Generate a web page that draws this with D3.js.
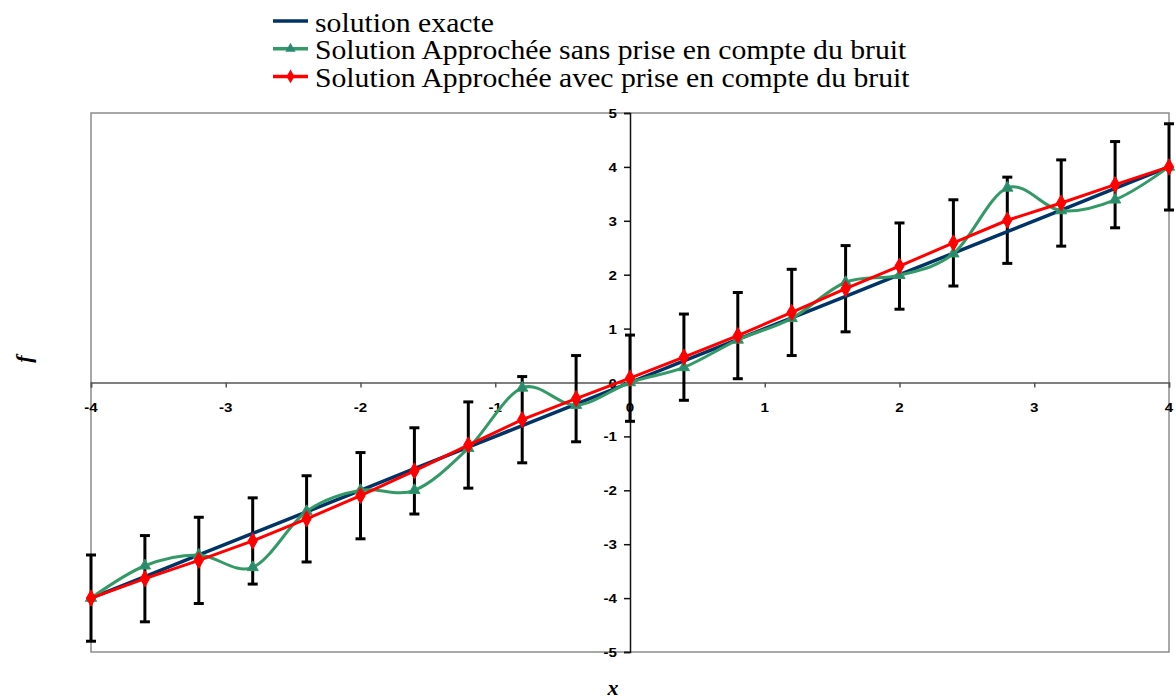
<!DOCTYPE html>
<html>
<head>
<meta charset="utf-8">
<script src="https://cdn.jsdelivr.net/npm/d3@7"></script>
<style>
  html, body { margin: 0; padding: 0; background: #fff; }
  svg { display: block; }
</style>
</head>
<body>
<svg id="chart" width="1176" height="700"></svg>
<script>
// ---- data ----
const xValues = [-4, -3.6, -3.2, -2.8, -2.4, -2, -1.6, -1.2, -0.8, -0.4, 0, 0.4, 0.8, 1.2, 1.6, 2, 2.4, 2.8, 3.2, 3.6, 4];
const exactValues = [-4, -3.6, -3.2, -2.8, -2.4, -2, -1.6, -1.2, -0.8, -0.4, 0, 0.4, 0.8, 1.2, 1.6, 2, 2.4, 2.8, 3.2, 3.6, 4];
const sansBruit = [-4.00, -3.40, -3.20, -3.43, -2.39, -2.00, -2.00, -1.22, -0.10, -0.42, 0.00, 0.28, 0.79, 1.19, 1.86, 1.99, 2.39, 3.61, 3.19, 3.39, 4.00];
const avecBruit = [-4.00, -3.64, -3.30, -2.94, -2.53, -2.10, -1.64, -1.16, -0.69, -0.30, 0.08, 0.47, 0.87, 1.30, 1.74, 2.16, 2.59, 3.01, 3.33, 3.67, 4.00];
const errorHalf = [0.8, 0.8, 0.8, 0.8, 0.8, 0.8, 0.8, 0.8, 0.8, 0.8, 0.8, 0.8, 0.8, 0.8, 0.8, 0.8, 0.8, 0.8, 0.8, 0.8, 0.8];
const xTicks = [-4, -3, -2, -1, 0, 1, 2, 3, 4];
const yTicks = [-5, -4, -3, -2, -1, 0, 1, 2, 3, 4, 5];
const seriesNames = ["solution exacte", "Solution Approchée sans prise en compte du bruit", "Solution Approchée avec prise en compte du bruit"];
const xTitle = "x";
const yTitle = "f";

const colors = { exact: "#003366", sans: "#339966", sansMarker: "#2a8a70", avec: "#ff0000" };
const sansFont = "Arial, 'Liberation Sans', Helvetica, sans-serif";
const serifFont = "'Times New Roman', 'Liberation Serif', Times, serif";

// ---- layout ----
const svg = d3.select("#chart");
const plot = { left: 91, right: 1169, top: 113, bottom: 652 };
const x = d3.scaleLinear().domain([-4, 4]).range([plot.left, plot.right]);
const y = d3.scaleLinear().domain([-5, 5]).range([plot.bottom, plot.top]);

// frame
svg.append("rect")
  .attr("x", plot.left).attr("y", plot.top)
  .attr("width", plot.right - plot.left).attr("height", plot.bottom - plot.top)
  .attr("fill", "none").attr("stroke", "#8c8c8c").attr("stroke-width", 1.5);

// x axis through y=0 (tick marks via axis, labels drawn separately)
const xAxis = d3.axisBottom(x).tickValues(xTicks).tickSize(5).tickFormat("");
const gx = svg.append("g").attr("transform", `translate(0,${y(0)})`).call(xAxis);
gx.select(".domain").attr("stroke", "#555").attr("stroke-width", 1.5);
gx.selectAll(".tick line").attr("stroke", "#555").attr("stroke-width", 1.5);
svg.append("g").selectAll("text").data(xTicks).join("text")
  .attr("transform", d => `translate(${x(d)},${y(0) + 29}) scale(1.12,1)`).attr("text-anchor", "middle")
  .attr("font-family", sansFont).attr("font-weight", "bold").attr("font-size", 13.5).attr("fill", "#000")
  .text(d => String(d));

// y axis through x=0
const yAxis = d3.axisLeft(y).tickValues(yTicks).tickSize(6).tickFormat("");
const gy = svg.append("g").attr("transform", `translate(${x(0)},0)`).call(yAxis);
gy.select(".domain").attr("stroke", "#111").attr("stroke-width", 1.5);
gy.selectAll(".tick line").attr("stroke", "#111").attr("stroke-width", 1.5);
svg.append("g").selectAll("text").data(yTicks).join("text")
  .attr("transform", d => `translate(${x(0) - 13},${y(d) + 5}) scale(1.12,1)`).attr("text-anchor", "end")
  .attr("font-family", sansFont).attr("font-weight", "bold").attr("font-size", 13.5).attr("fill", "#000")
  .text(d => String(d));

// error bars (on the "avec bruit" series)
const eb = svg.append("g").attr("stroke", "#000").attr("stroke-width", 3).attr("stroke-linecap", "butt");
xValues.forEach((xv, i) => {
  const lo = avecBruit[i] - errorHalf[i], hi = avecBruit[i] + errorHalf[i];
  eb.append("line").attr("x1", x(xv)).attr("x2", x(xv)).attr("y1", y(lo)).attr("y2", y(hi));
  eb.append("line").attr("x1", x(xv) - 5).attr("x2", x(xv) + 5).attr("y1", y(lo)).attr("y2", y(lo));
  eb.append("line").attr("x1", x(xv) - 5).attr("x2", x(xv) + 5).attr("y1", y(hi)).attr("y2", y(hi));
});

const pts = arr => xValues.map((xv, i) => [xv, arr[i]]);
const lineLin = d3.line().x(d => x(d[0])).y(d => y(d[1]));
const lineSmooth = d3.line().x(d => x(d[0])).y(d => y(d[1])).curve(d3.curveCatmullRom.alpha(0));

// exact
svg.append("path").datum(pts(exactValues)).attr("d", lineLin)
  .attr("fill", "none").attr("stroke", colors.exact).attr("stroke-width", 3.5);

// sans bruit (smoothed)
svg.append("path").datum(pts(sansBruit)).attr("d", lineSmooth)
  .attr("fill", "none").attr("stroke", colors.sans).attr("stroke-width", 3);
const tri = d3.symbol().type(d3.symbolTriangle).size(55);
svg.append("g").selectAll("path").data(pts(sansBruit)).join("path")
  .attr("d", tri).attr("transform", d => `translate(${x(d[0])},${y(d[1])})`)
  .attr("fill", colors.sansMarker).attr("stroke", colors.sans).attr("stroke-width", 1);

// avec bruit
svg.append("path").datum(pts(avecBruit)).attr("d", lineLin)
  .attr("fill", "none").attr("stroke", colors.avec).attr("stroke-width", 3);
const dia = d3.symbol().type(d3.symbolDiamond).size(75);
svg.append("g").selectAll("path").data(pts(avecBruit)).join("path")
  .attr("d", dia).attr("transform", d => `translate(${x(d[0])},${y(d[1])})`)
  .attr("fill", colors.avec).attr("stroke", colors.avec).attr("stroke-width", 1);

// axis titles
svg.append("text").attr("x", 613).attr("y", 695).attr("text-anchor", "middle")
  .attr("font-family", serifFont).attr("font-style", "italic").attr("font-weight", "bold")
  .attr("font-size", 22).text(xTitle);
svg.append("text").attr("transform", "translate(31,359) rotate(-90)").attr("text-anchor", "middle")
  .attr("font-family", serifFont).attr("font-style", "italic").attr("font-weight", "bold")
  .attr("font-size", 22).text(yTitle);

// legend
const legend = svg.append("g");
const legendRows = [
  { name: seriesNames[0], color: colors.exact, marker: null },
  { name: seriesNames[1], color: colors.sans, marker: "tri" },
  { name: seriesNames[2], color: colors.avec, marker: "dia" }
];
legendRows.forEach((r, i) => {
  const cy = 21 + i * 27.7;
  legend.append("line").attr("x1", 273).attr("x2", 308).attr("y1", cy).attr("y2", cy)
    .attr("stroke", r.color).attr("stroke-width", 3.5);
  if (r.marker === "tri") {
    legend.append("path").attr("d", d3.symbol().type(d3.symbolTriangle).size(45))
      .attr("transform", `translate(290.5,${cy})`).attr("fill", colors.sansMarker);
  } else if (r.marker === "dia") {
    legend.append("path").attr("d", d3.symbol().type(d3.symbolDiamond).size(55))
      .attr("transform", `translate(290.5,${cy})`).attr("fill", colors.avec);
  }
  legend.append("text")
    .attr("transform", `translate(315,${cy + 10.5}) scale(1.1,1)`)
    .attr("font-family", serifFont).attr("font-size", 27).attr("fill", "#000")
    .text(r.name);
});
</script>
</body>
</html>
